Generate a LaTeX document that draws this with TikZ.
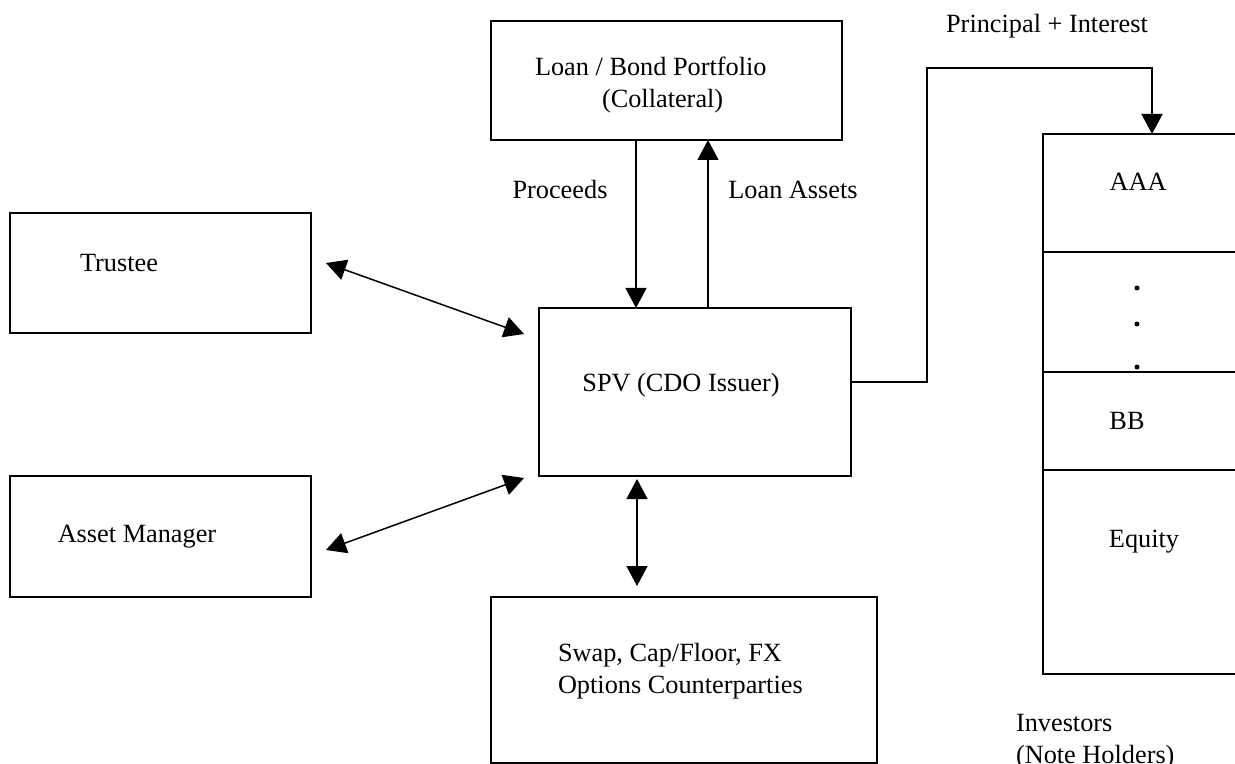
\documentclass[tikz,border=0pt]{standalone}
\usepackage{fontspec}
\setmainfont{Liberation Serif}
\usetikzlibrary{arrows.meta,calc}
\tikzset{
  boxnode/.style={draw, rectangle, line width=0.75pt, inner sep=0pt, outer sep=0pt},
  txt/.style={inner sep=0pt, outer sep=0pt, font=\fontsize{13.15pt}{16pt}\selectfont},
  tip/.tip={Triangle[length=10pt,width=10.5pt]},
  conn/.style={line width=0.75pt, -tip},
  biconn/.style={line width=0.75pt, tip-tip},
  dotmark/.style={fill=black}
}
\begin{document}
\begin{tikzpicture}[x=0.5pt,y=-0.5pt]
\useasboundingbox (0,0) rectangle (1235,764);
\fill[white] (0,0) rectangle (1235,764);
\clip (0,0) rectangle (1235,764);

% boxes
\node[boxnode, minimum width=175.5pt, minimum height=59.5pt] (loan) at (666.5,80.5) {};
\node[boxnode, minimum width=150.5pt, minimum height=60pt] (trustee) at (160.5,273) {};
\node[boxnode, minimum width=150.5pt, minimum height=60.5pt] (asset) at (160.5,536.5) {};
\node[boxnode, minimum width=156pt, minimum height=84pt] (spv) at (695,392) {};
\node[boxnode, minimum width=193pt, minimum height=83pt] (swap) at (684,680) {};
\node[boxnode, minimum width=128.5pt, minimum height=270pt] (tranche) at (1171.5,404) {};

% tranche dividers
\draw[line width=0.75pt] ($(tranche.north west)+(0,118)$) -- ++(250,0);
\draw[line width=0.75pt] ($(tranche.north west)+(0,238)$) -- ++(250,0);
\draw[line width=0.75pt] ($(tranche.north west)+(0,336)$) -- ++(250,0);

% texts
\node[txt, anchor=base west] (loantxt) at (535,76)
  {\begin{tabular}[t]{@{}l@{}}Loan / Bond Portfolio\\\hspace*{33.5pt}(Collateral)\end{tabular}};
\node[txt, anchor=base] (trusteetxt) at (119,272) {Trustee};
\node[txt, anchor=base] (assettxt) at (137,542) {Asset Manager};
\node[txt, anchor=base] (spvtxt) at (681,391) {SPV (CDO Issuer)};
\node[txt, anchor=base west] (swaptxt) at (558,661)
  {\begin{tabular}[t]{@{}l@{}}Swap, Cap/Floor, FX\\Options Counterparties\end{tabular}};
\node[txt, anchor=base] (proceeds) at (560,199) {Proceeds};
\node[txt, anchor=base] (loanassets) at (793,199) {Loan Assets};
\node[txt, anchor=base] (principal) at (1047,33) {Principal + Interest};
\node[txt, anchor=base] (aaa) at (1138,191) {AAA};
\node[txt, anchor=base] (bb) at (1127,429) {BB};
\node[txt, anchor=base] (equity) at (1144,547) {Equity};
\node[txt, anchor=base west] (investors) at (1016,731)
  {\begin{tabular}[t]{@{}l@{}}Investors\\(Note Holders)\end{tabular}};

% dots
\fill[dotmark] (1137,288) circle[radius=2.5];
\fill[dotmark] (1137,324) circle[radius=2.5];
\fill[dotmark] (1137,367) circle[radius=2.5];

% connectors
\draw[conn] ($(loan.south)+(-30.5,0)$) -- ($(spv.north)+(-59,0)$);
\draw[conn] ($(spv.north)+(13,0)$) -- ($(loan.south)+(41.5,0)$);
\draw[biconn] ($(trustee.east)+(15,-10)$) -- ($(spv.west)+(-15,-58)$);
\draw[biconn] ($(asset.east)+(15,13.5)$) -- ($(spv.south west)+(-15,2)$);
\draw[biconn] ($(spv.south)+(-58,3)$) -- ($(swap.north)+(-47,-11)$);
\coordinate (bend) at (927,68);
\draw[conn] ($(spv.east)+(0,-10)$) -| (bend) -| ($(tranche.north west)+(109,0)$);
\end{tikzpicture}
\end{document}
